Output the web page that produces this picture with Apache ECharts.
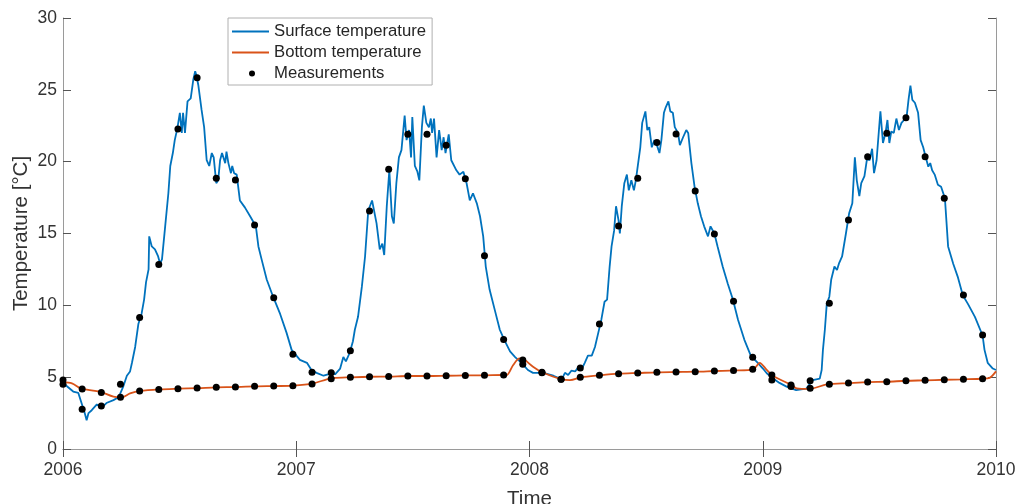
<!DOCTYPE html>
<html>
<head>
<meta charset="utf-8">
<script src="https://cdn.jsdelivr.net/npm/echarts@6/dist/echarts.min.js"></script>
<style>html,body{margin:0;padding:0;background:#fff}#c{width:1020px;height:504px}</style>
</head>
<body>
<div id="c"></div>
<script>
// Surface temperature: days since 2006-01-01 and °C
const surfaceDays = [0,8,16,24,29,34,37,40,45,53,61,68,79,87,94,100,105,108,113,118,123,127,130,134,135,139,144,149,152,155,160,165,168,172,175,179,183,186,188,191,195,200,204,207,209,212,217,221,225,229,233,236,240,243,246,249,254,256,259,263,265,268,272,277,285,293,302,306,311,319,329,340,350,358,371,382,384,389,397,408,415,421,426,434,439,443,449,454,457,462,468,473,478,484,491,496,500,503,507,511,515,518,522,526,530,535,538,542,545,547,551,555,558,562,565,569,573,576,578,581,585,589,593,596,599,604,608,616,621,627,632,637,642,648,653,658,662,668,676,684,691,700,708,718,728,736,752,768,781,786,791,796,802,807,812,817,822,828,833,838,843,848,852,856,859,863,866,870,872,875,879,883,886,890,894,897,900,904,907,912,915,918,922,926,930,934,937,941,944,948,951,955,958,963,966,971,976,979,984,989,994,999,1004,1010,1014,1020,1025,1033,1041,1049,1057,1067,1077,1088,1096,1102,1112,1122,1133,1148,1164,1174,1185,1188,1190,1193,1196,1200,1203,1208,1212,1215,1220,1226,1231,1236,1240,1243,1247,1250,1255,1259,1263,1267,1270,1274,1280,1284,1288,1291,1294,1297,1301,1305,1309,1313,1317,1321,1324,1327,1330,1334,1339,1343,1347,1351,1355,1358,1361,1365,1370,1375,1381,1386,1394,1401,1409,1417,1428,1440,1443,1448,1456,1461];
const surfaceTemp = [4.6,4.3,4.0,3.9,3.2,2.5,2.0,2.5,2.7,3.1,2.9,3.2,3.4,3.6,4.3,5.1,5.4,6.0,7.1,8.7,9.4,10.4,11.6,12.5,14.8,14.1,13.9,13.4,12.9,13.2,15.5,17.8,19.7,20.6,21.5,22.3,23.4,22.0,23.4,22.0,24.2,24.4,25.7,26.3,26.0,25.3,23.6,22.4,20.1,19.7,20.6,20.3,18.5,18.7,20.1,20.6,19.9,20.7,19.9,19.2,19.7,19.2,19.1,17.3,16.8,16.2,15.5,14.1,13.2,11.8,10.6,9.4,8.1,6.9,6.2,6.0,5.9,5.5,5.3,5.1,5.2,5.4,5.2,5.6,6.4,6.1,6.7,7.5,8.3,9.2,11.3,13.4,16.6,17.3,15.7,13.9,14.3,13.5,16.9,19.4,16.2,15.7,18.5,20.3,20.8,23.2,21.5,22.2,20.3,23.1,19.7,19.3,18.7,22.4,23.9,22.7,22.4,23.0,22.0,23.0,20.3,22.2,20.8,21.7,20.6,21.9,20.1,19.4,19.1,19.3,18.5,17.3,17.8,17.1,16.2,14.8,12.7,11.1,9.7,8.3,7.6,6.8,6.4,6.0,5.5,5.3,5.3,5.1,4.85,5.3,5.15,5.45,5.4,5.7,5.55,6.0,6.5,6.5,7.1,8.05,9.0,10.25,10.4,12.7,14.1,15.2,16.9,15.9,15.0,16.9,18.5,19.1,18.0,18.7,18.0,18.7,18.8,21.0,22.7,23.5,22.2,22.4,21.0,21.5,21.15,20.6,21.5,23.4,23.8,24.2,23.5,23.4,22.4,22.0,21.15,21.7,22.2,22.0,19.9,18.25,17.1,16.2,15.5,14.8,15.5,15.0,14.1,12.7,11.5,10.4,9.0,7.6,6.5,6.0,5.6,5.27,4.9,4.6,4.34,4.1,4.2,4.8,4.9,5.5,6.9,8.3,10.1,10.6,11.8,12.7,12.46,12.9,13.4,15.0,16.4,17.1,20.3,18.7,17.6,18.5,19.0,20.2,20.1,20.9,19.2,20.1,23.5,21.3,22.0,22.9,21.3,22.1,22.0,23.0,22.2,22.7,22.9,23.1,24.3,25.3,24.3,24.1,23.4,21.5,21.0,20.3,19.65,19.9,19.4,19.1,18.4,18.25,17.45,14.1,12.9,12.0,10.7,10.1,9.2,7.9,6.9,6.0,5.6,5.5];

// Bottom temperature: days since 2006-01-01 and °C
const bottomDays = [0,14,29,58,79,92,105,121,151,181,211,241,271,302,332,361,392,413,423,451,481,511,541,571,601,631,661,691,695,705,715,723,736,752,781,794,811,841,871,901,930,961,991,1021,1051,1081,1091,1102,1112,1141,1149,1169,1196,1231,1261,1290,1320,1350,1380,1410,1440,1451,1461];
const bottomTemp = [4.65,4.57,4.2,3.99,3.64,3.6,3.87,4.04,4.15,4.2,4.24,4.29,4.31,4.36,4.38,4.41,4.57,4.85,4.94,4.99,5.03,5.04,5.08,5.08,5.1,5.12,5.13,5.15,5.15,5.85,6.31,6.19,5.73,5.31,4.85,4.8,4.99,5.13,5.24,5.29,5.34,5.36,5.38,5.43,5.47,5.55,6.0,5.5,5.08,4.45,4.22,4.18,4.5,4.59,4.66,4.68,4.75,4.78,4.82,4.85,4.89,4.95,5.4];

// Measurements: days since 2006-01-01, surface and bottom values (°C)
const measDays = [0,30,60,90,120,150,180,210,240,270,300,330,360,390,420,450,480,510,540,570,600,630,660,690,720,750,780,810,840,870,900,930,960,990,1020,1050,1080,1110,1140,1170,1200,1230,1260,1290,1320,1350,1380,1410,1440];
const measSurface = [4.8,2.76,2.99,4.5,9.16,12.85,22.27,25.84,18.84,18.72,15.59,10.53,6.6,5.34,5.31,6.84,16.56,19.48,21.9,21.9,21.15,18.81,13.45,7.63,5.9,5.3,4.85,5.64,8.7,15.52,18.84,21.34,21.92,17.95,14.96,10.28,6.38,4.8,4.35,4.75,10.14,15.94,20.34,21.97,23.06,20.34,17.45,10.72,7.93];
const measBottom = [4.5,4.17,3.94,3.6,4.04,4.15,4.2,4.24,4.29,4.31,4.36,4.38,4.41,4.52,4.89,4.99,5.03,5.04,5.08,5.08,5.1,5.12,5.13,5.15,6.2,5.35,4.85,4.99,5.13,5.24,5.29,5.34,5.36,5.38,5.43,5.47,5.55,5.15,4.45,4.22,4.5,4.59,4.66,4.68,4.75,4.78,4.82,4.85,4.89];

const yearTicks = [2006, 2007, 2008, 2009, 2010];
const startYear = 2006;
const toYear = d => startYear + d / 365.25;

const surfaceData = surfaceDays.map((d, i) => [toYear(d), surfaceTemp[i]]);
const bottomData = bottomDays.map((d, i) => [toYear(d), bottomTemp[i]]);
const measData = [];
measDays.forEach((d, i) => { measData.push([toYear(d), measSurface[i]]); measData.push([toYear(d), measBottom[i]]); });

const FONT = '"Liberation Sans", Arial, Helvetica, sans-serif';
const axisGray = '#9a9a9a';
const textCol = '#333333';
const lineIcon = 'path://M0,0 M37,14 M0,6.1 L37,6.1 L37,7.9 L0,7.9 Z';
const dotIcon = 'path://M0,0 M37,14 M17,7 A3,3 0 1,0 23,7 A3,3 0 1,0 17,7 Z';

const chart = echarts.init(document.getElementById('c'), null, {renderer: 'canvas'});
chart.setOption({
  animation: false,
  backgroundColor: '#ffffff',
  textStyle: {fontFamily: FONT},
  grid: {left: 63, right: 24, top: 18, bottom: 55, containLabel: false, outerBoundsMode: 'none'},
  legend: {
    orient: 'vertical', left: 228, top: 18,
    padding: [5, 6, 3, 4], itemGap: 4, itemWidth: 37, itemHeight: 14,
    backgroundColor: '#fff', borderColor: '#b0b0b0', borderWidth: 1, borderRadius: 0,
    textStyle: {fontFamily: FONT, fontSize: 16.7, color: '#262626'},
    data: [
      {name: 'Surface temperature', icon: lineIcon},
      {name: 'Bottom temperature', icon: lineIcon},
      {name: 'Measurements', icon: dotIcon}
    ]
  },
  xAxis: [{
    type: 'value', min: 2006, max: 2010, interval: 1,
    name: 'Time', nameLocation: 'middle', nameGap: 40, nameMoveOverlap: false,
    nameTextStyle: {fontFamily: FONT, fontSize: 20.5, color: textCol},
    axisLine: {show: true, lineStyle: {color: axisGray, width: 1}},
    axisTick: {show: true, inside: true, length: 8, lineStyle: {color: '#555'}},
    axisLabel: {fontFamily: FONT, fontSize: 17.5, color: textCol, margin: 12, formatter: v => String(Math.round(v))},
    splitLine: {show: false}
  }, {
    type: 'value', min: 2006, max: 2010, interval: 1, position: 'top',
    axisLine: {show: true, lineStyle: {color: axisGray, width: 1}},
    axisTick: {show: true, inside: true, length: 8, lineStyle: {color: '#555'}},
    axisLabel: {show: false}, splitLine: {show: false}
  }],
  yAxis: [{
    type: 'value', min: 0, max: 30, interval: 5,
    name: 'Temperature [°C]', nameLocation: 'middle', nameGap: 31, nameMoveOverlap: false,
    nameTextStyle: {fontFamily: FONT, fontSize: 20.5, color: textCol},
    axisLine: {show: true, lineStyle: {color: axisGray, width: 1}},
    axisTick: {show: true, inside: true, length: 8, lineStyle: {color: '#555'}},
    axisLabel: {fontFamily: FONT, fontSize: 17.5, color: textCol, margin: 6},
    splitLine: {show: false}
  }, {
    type: 'value', min: 0, max: 30, interval: 5, position: 'right',
    axisLine: {show: true, lineStyle: {color: axisGray, width: 1}},
    axisTick: {show: true, inside: true, length: 8, lineStyle: {color: '#555'}},
    axisLabel: {show: false}, splitLine: {show: false}
  }],
  series: [{
    name: 'Surface temperature', type: 'line', data: surfaceData,
    symbol: 'none', showSymbol: false, z: 2,
    color: '#0072BD', lineStyle: {color: '#0072BD', width: 1.8}
  }, {
    name: 'Bottom temperature', type: 'line', data: bottomData,
    symbol: 'none', showSymbol: false, smooth: 0.3, z: 3,
    color: '#D95319', lineStyle: {color: '#D95319', width: 1.8}
  }, {
    name: 'Measurements', type: 'scatter', data: measData,
    symbol: 'circle', symbolSize: 7, z: 5,
    itemStyle: {color: '#000000', opacity: 1}
  }]
});
</script>
</body>
</html>
